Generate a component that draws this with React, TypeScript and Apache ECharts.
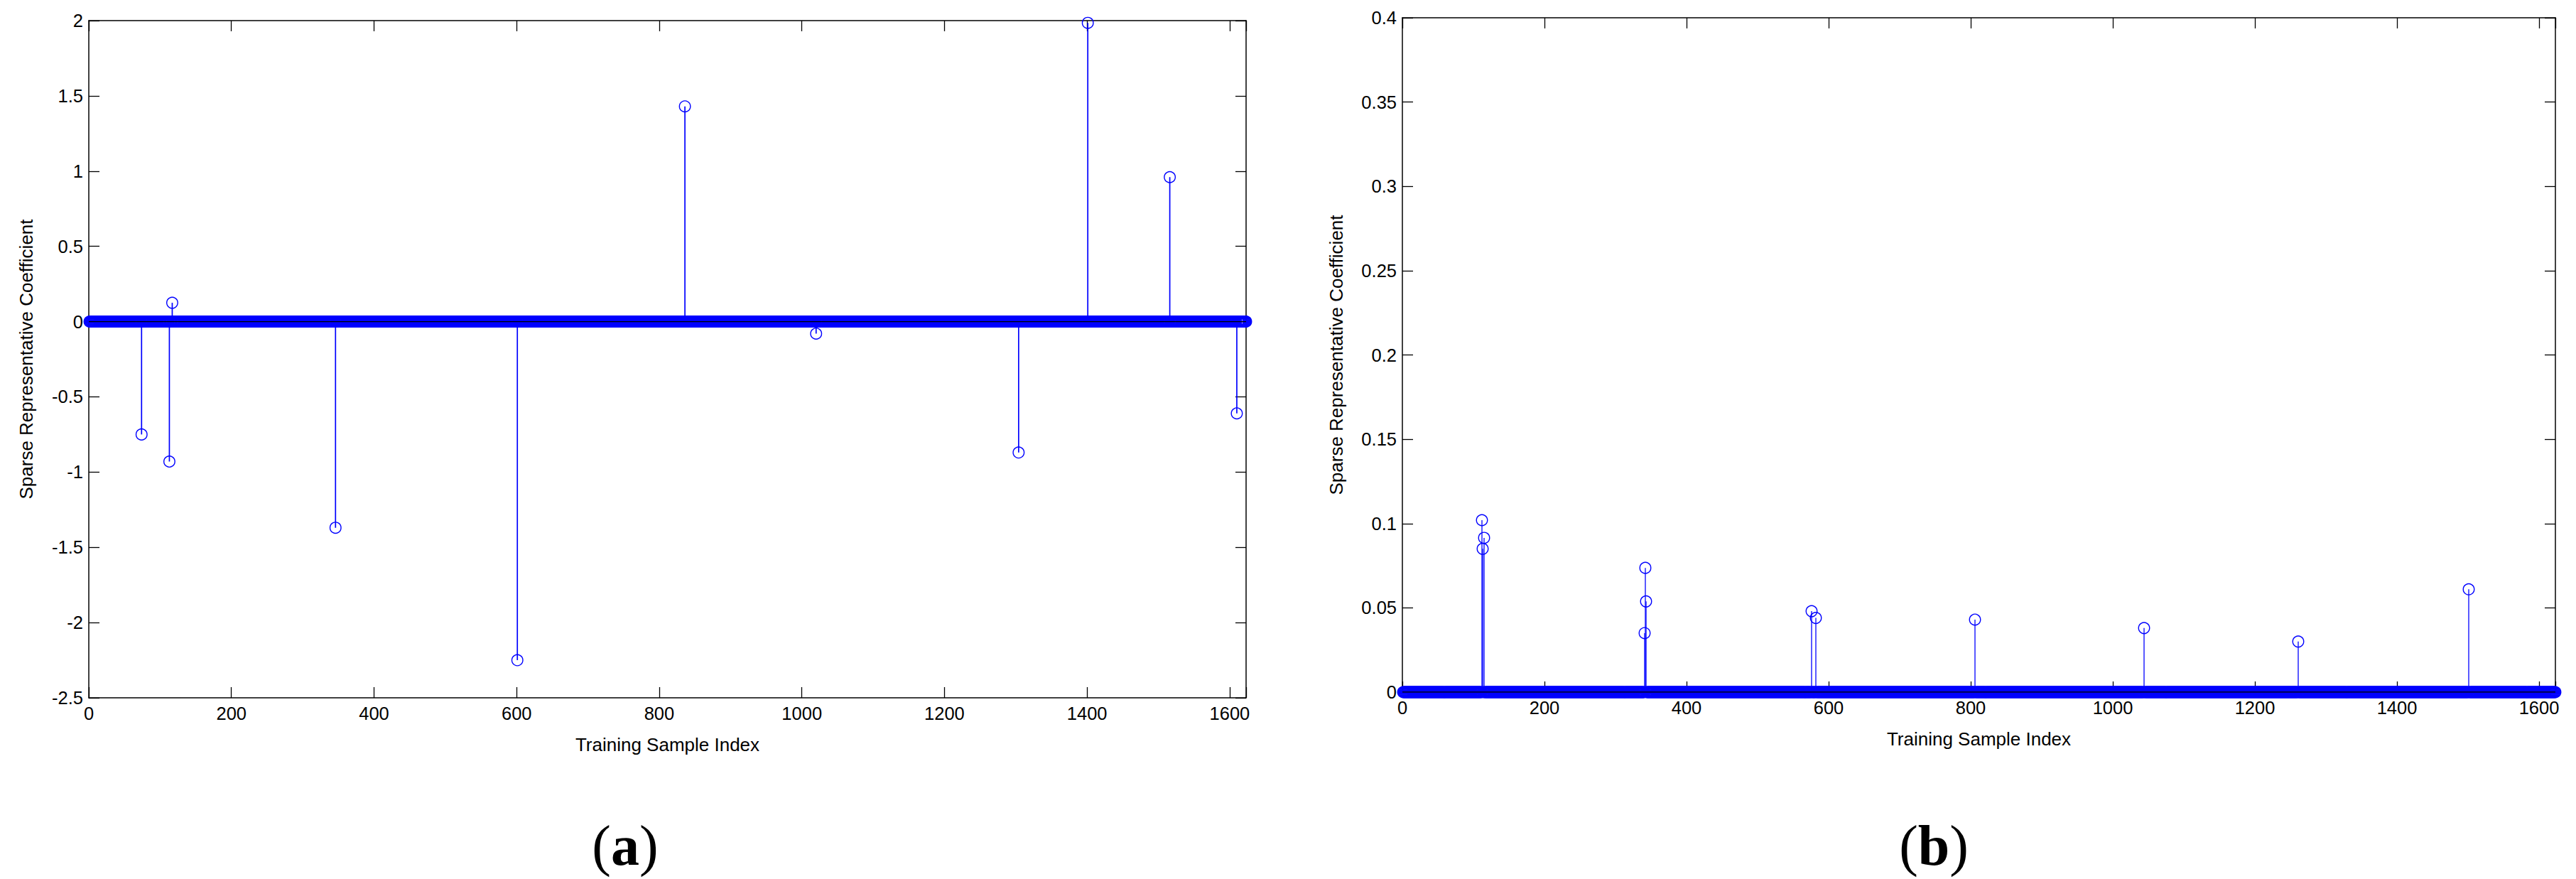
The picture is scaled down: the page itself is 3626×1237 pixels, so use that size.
import React, { useEffect, useRef } from "react";
import * as echarts from "echarts";

// ---------------- data ----------------
const SAMPLE_COUNT = 1623; // number of training samples (x runs 1..N)

const xTickStep = 200;
const xTickLabels = ["0", "200", "400", "600", "800", "1000", "1200", "1400", "1600"];

// panel (a): nonzero sparse coefficients (sample index, value)
const aIndices = [74, 113, 117, 346, 601, 836, 1020, 1304, 1401, 1516, 1610];
const aValues = [-0.75, -0.93, 0.125, -1.37, -2.25, 1.43, -0.08, -0.87, 1.985, 0.96, -0.61];
const aYTicks = [-2.5, -2, -1.5, -1, -0.5, 0, 0.5, 1, 1.5, 2];

// panel (b): nonzero sparse coefficients (sample index, value)
const bIndices = [112, 113, 115, 341, 342, 343, 576, 582, 806, 1044, 1261, 1501];
const bValues = [0.102, 0.085, 0.0915, 0.035, 0.0737, 0.0538, 0.048, 0.044, 0.043, 0.038, 0.03, 0.061];
const bYTicks = [0, 0.05, 0.1, 0.15, 0.2, 0.25, 0.3, 0.35, 0.4];

const xTitle = "Training Sample Index";
const yTitle = "Sparse Representative Coefficient";
const panelLetters = ["a", "b"];

// ---------------- styling ----------------
const BLUE = "#0000ff";
const FONT = "'Liberation Sans', Arial, Helvetica, sans-serif";
const SERIF = "'Liberation Serif', 'Times New Roman', Times, serif";

const panels = [
  { left: 125, top: 29, width: 1629, height: 953, idx: aIndices, vals: aValues, yTicks: aYTicks, yTitleX: 37, letterX: 880, lineW: 1.7 },
  { left: 1974, top: 25, width: 1623, height: 949, idx: bIndices, vals: bValues, yTicks: bYTicks, yTitleX: 1881, letterX: 2722, lineW: 1.3 },
];

function fullVector(idx: number[], vals: number[]): number[][] {
  const v: number[] = new Array(SAMPLE_COUNT).fill(0);
  idx.forEach((i, k) => {
    v[i - 1] = vals[k];
  });
  return v.map((y, i) => [i + 1, y]);
}

function fmtNum(v: number) {
  return String(Math.round(v * 1000) / 1000);
}

function xAxisCfg(gridIndex: number, position: string, showLabel: boolean) {
  return {
    type: "value",
    gridIndex,
    position,
    min: 0,
    max: SAMPLE_COUNT,
    interval: xTickStep,
    axisLine: { show: true, onZero: false, lineStyle: { color: "#000", width: 1.5 } },
    axisTick: { show: true, inside: true, length: 15, lineStyle: { color: "#000", width: 1.3 } },
    axisLabel: {
      show: showLabel,
      color: "#000",
      fontSize: 25.5,
      fontFamily: FONT,
      margin: 9,
      formatter: (v: number) => {
        const s = String(Math.round(v));
        return xTickLabels.includes(s) ? s : "";
      },
    },
    splitLine: { show: false },
  };
}

function yAxisCfg(gridIndex: number, position: string, ticks: number[], showLabel: boolean) {
  return {
    type: "value",
    gridIndex,
    position,
    min: ticks[0],
    max: ticks[ticks.length - 1],
    interval: ticks[1] - ticks[0],
    axisLine: { show: true, onZero: false, lineStyle: { color: "#000", width: 1.5 } },
    axisTick: { show: true, inside: true, length: 15, lineStyle: { color: "#000", width: 1.3 } },
    axisLabel: {
      show: showLabel,
      color: "#000",
      fontSize: 25.5,
      fontFamily: FONT,
      margin: 8,
      formatter: (v: number) => fmtNum(v),
    },
    splitLine: { show: false },
  };
}

export default function App() {
  const ref = useRef<HTMLDivElement>(null);

  useEffect(() => {
    document.body.style.margin = "0";
    if (!ref.current) return;
    const chart = echarts.init(ref.current, null, { renderer: "svg" });

    const grids: any[] = [];
    const xAxes: any[] = [];
    const yAxes: any[] = [];
    const series: any[] = [];
    const graphics: any[] = [];

    panels.forEach((p, gi) => {
      grids.push({ left: p.left, top: p.top, width: p.width, height: p.height, containLabel: false });
      xAxes.push(xAxisCfg(gi, "bottom", true));
      xAxes.push(xAxisCfg(gi, "top", false));
      yAxes.push(yAxisCfg(gi, "left", p.yTicks, true));
      yAxes.push(yAxisCfg(gi, "right", p.yTicks, false));
      const xi = gi * 2;
      const yi = gi * 2;

      // stems
      series.push({
        type: "custom",
        xAxisIndex: xi,
        yAxisIndex: yi,
        z: 2,
        silent: true,
        clip: false,
        data: p.idx.map((i, k) => [i, p.vals[k]]),
        encode: { x: 0, y: 1 },
        renderItem: (params: any, api: any) => {
          const a = api.coord([api.value(0), 0]);
          const b = api.coord([api.value(0), api.value(1)]);
          return {
            type: "line",
            shape: { x1: a[0], y1: a[1], x2: b[0], y2: b[1] },
            style: { stroke: BLUE, lineWidth: p.lineW },
          };
        },
      });

      // markers for every sample (zeros form the thick band)
      series.push({
        type: "scatter",
        xAxisIndex: xi,
        yAxisIndex: yi,
        z: 3,
        silent: true,
        clip: false,
        large: false,
        progressive: 0,
        symbol: "circle",
        symbolSize: 15.5,
        itemStyle: { color: "rgba(0,0,0,0)", borderColor: BLUE, borderWidth: 1.4, opacity: 1 },
        emphasis: { disabled: true },
        data: fullVector(p.idx, p.vals),
      });

      // stem baseline
      series.push({
        type: "line",
        xAxisIndex: xi,
        yAxisIndex: yi,
        z: 4,
        silent: true,
        symbol: "none",
        lineStyle: { color: "#000", width: 1.3 },
        data: [
          [0, 0],
          [SAMPLE_COUNT, 0],
        ],
      });

      // axis titles
      graphics.push({
        type: "text",
        x: p.left + p.width / 2,
        y: p.top + p.height + 66,
        style: { text: xTitle, fill: "#000", font: `26px ${FONT}`, textAlign: "center", textVerticalAlign: "middle" },
      });
      graphics.push({
        type: "text",
        x: p.yTitleX,
        y: p.top + p.height / 2,
        rotation: Math.PI / 2,
        style: { text: yTitle, fill: "#000", font: `26px ${FONT}`, textAlign: "center", textVerticalAlign: "middle" },
      });
      // panel letter
      graphics.push({
        type: "text",
        x: p.letterX,
        y: 1190,
        style: {
          text: `{p|(}{b|${panelLetters[gi]}})}{p|)}`.replace("})}", "}"),
          textAlign: "center",
          textVerticalAlign: "middle",
          rich: {
            p: { fontFamily: SERIF, fontSize: 80, fontWeight: "normal", fill: "#000" },
            b: { fontFamily: SERIF, fontSize: 80, fontWeight: "bold", fill: "#000" },
          },
        },
      });
    });

    chart.setOption({
      animation: false,
      backgroundColor: "#ffffff",
      grid: grids,
      xAxis: xAxes,
      yAxis: yAxes,
      series,
      graphic: graphics,
    });

    return () => {
      chart.dispose();
    };
  }, []);

  return <div ref={ref} style={{ width: 3626, height: 1237, background: "#fff" }} />;
}
